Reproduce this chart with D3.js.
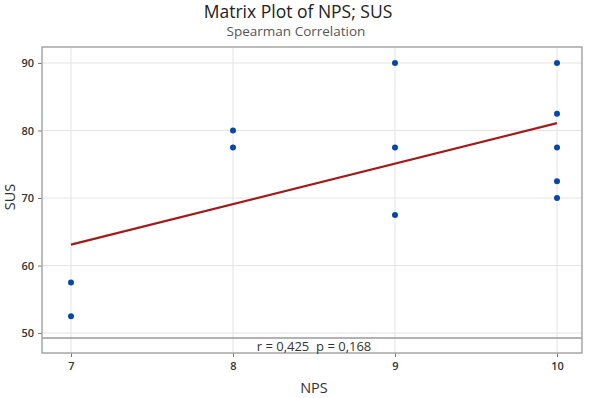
<!DOCTYPE html>
<html>
<head>
<meta charset="utf-8">
<script src="https://cdn.jsdelivr.net/npm/d3@7"></script>
<style>
  body { margin: 0; background: #fff; }
  text { font-family: "Open Sans", "Noto Sans", sans-serif; }
</style>
</head>
<body>
<svg id="chart" width="590" height="398"></svg>
<script>
// data
const nps = [7, 7, 8, 8, 9, 9, 9, 10, 10, 10, 10, 10];
const sus = [57.5, 52.5, 80, 77.5, 90, 77.5, 67.5, 90, 82.5, 77.5, 72.5, 70];
const fitX = [7, 10];
const fitY = [63.1, 81.1];
const xTicks = [7, 8, 9, 10];
const yTicks = [50, 60, 70, 80, 90];
const statText = "r = 0,425  p = 0,168";

const svg = d3.select("#chart");

// frame of the plot area
var frame = { left: 42, right: 582, top: 47, bottom: 353 };

var x = d3.scaleLinear().domain([7, 10]).range([71, 557]);
var y = d3.scaleLinear().domain([50, 90]).range([333, 63]);

// titles
svg.append("text")
  .attr("x", 298).attr("y", 18)
  .attr("text-anchor", "middle")
  .style("font-size", "17.5px")
  .attr("fill", "#222")
  .text("Matrix Plot of NPS; SUS");
svg.append("text")
  .attr("x", 296).attr("y", 36)
  .attr("text-anchor", "middle")
  .style("font-size", "13.5px")
  .attr("fill", "#555")
  .text("Spearman Correlation");

// gridlines
svg.append("g")
  .selectAll("line")
  .data(xTicks)
  .join("line")
  .attr("x1", d => x(d)).attr("x2", d => x(d))
  .attr("y1", frame.top).attr("y2", frame.bottom)
  .attr("stroke", "#e3e3e3").attr("stroke-width", 1);
svg.append("g")
  .selectAll("line")
  .data(yTicks)
  .join("line")
  .attr("x1", frame.left).attr("x2", frame.right)
  .attr("y1", d => y(d)).attr("y2", d => y(d))
  .attr("stroke", "#e3e3e3").attr("stroke-width", 1);

// axes (ticks outside the frame)
var xAxis = svg.append("g")
  .attr("transform", "translate(0," + frame.bottom + ")")
  .call(d3.axisBottom(x).tickValues(xTicks).tickSize(4).tickPadding(5).tickFormat(d3.format("d")));
var yAxis = svg.append("g")
  .attr("transform", "translate(" + frame.left + ",0)")
  .call(d3.axisLeft(y).tickValues(yTicks).tickSize(4).tickPadding(4).tickFormat(d3.format("d")));
[xAxis, yAxis].forEach(function (a) {
  a.select(".domain").remove();
  a.selectAll(".tick line").attr("stroke", "#777");
  a.selectAll(".tick text")
    .attr("fill", "#333")
    .style("font-size", "11px")
    .style("font-weight", "600")
    .style("font-family", "'Open Sans', sans-serif");
});

// annotation separator line
svg.append("line")
  .attr("x1", frame.left).attr("x2", frame.right)
  .attr("y1", 338).attr("y2", 338)
  .attr("stroke", "#9a9a9a").attr("stroke-width", 1.3);

// frame
svg.append("rect")
  .attr("x", frame.left).attr("y", frame.top)
  .attr("width", frame.right - frame.left)
  .attr("height", frame.bottom - frame.top)
  .attr("fill", "none")
  .attr("stroke", "#a6a6a6").attr("stroke-width", 1.5);

// fitted line
svg.append("path")
  .datum(fitX.map((d, i) => [d, fitY[i]]))
  .attr("fill", "none")
  .attr("stroke", "#a11d1d")
  .attr("stroke-width", 2.2)
  .attr("d", d3.line().x(d => x(d[0])).y(d => y(d[1])));

// points
svg.append("g")
  .selectAll("circle")
  .data(nps)
  .join("circle")
  .attr("cx", d => x(d))
  .attr("cy", (d, i) => y(sus[i]))
  .attr("r", 3)
  .attr("fill", "#0747a6");

// stats text
svg.append("text")
  .attr("x", 314).attr("y", 350.5)
  .attr("text-anchor", "middle")
  .style("font-size", "13px")
  .style("white-space", "pre")
  .attr("fill", "#333")
  .text(statText);

// axis titles
svg.append("text")
  .attr("x", 314).attr("y", 393)
  .attr("text-anchor", "middle")
  .style("font-size", "14.5px")
  .attr("fill", "#333")
  .text("NPS");
svg.append("text")
  .attr("transform", "translate(15,197) rotate(-90)")
  .attr("text-anchor", "middle")
  .style("font-size", "14.5px")
  .attr("fill", "#333")
  .text("SUS");
</script>
</body>
</html>
